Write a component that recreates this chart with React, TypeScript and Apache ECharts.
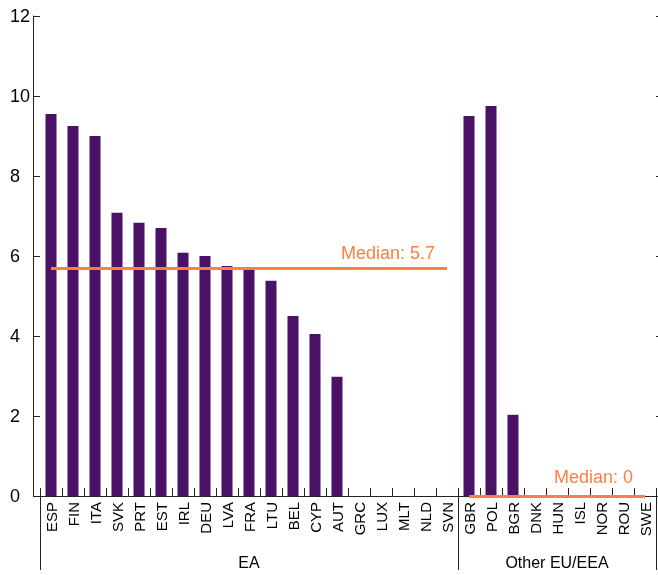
import React, { useEffect, useRef } from "react";
import * as echarts from "echarts";

const eaCountries = ["ESP", "FIN", "ITA", "SVK", "PRT", "EST", "IRL", "DEU", "LVA", "FRA", "LTU", "BEL", "CYP", "AUT", "GRC", "LUX", "MLT", "NLD", "SVN"];
const eaValues = [9.55, 9.25, 9.0, 7.08, 6.83, 6.7, 6.08, 6.0, 5.75, 5.65, 5.38, 4.5, 4.05, 2.98, 0, 0, 0, 0, 0];
const otherCountries = ["GBR", "POL", "BGR", "DNK", "HUN", "ISL", "NOR", "ROU", "SWE"];
const otherValues = [9.5, 9.75, 2.03, 0, 0, 0, 0, 0, 0];
const groupLabels = ["EA", "Other EU/EEA"];
const eaMedian = 5.7;
const otherMedian = 0;
const yMin = 0;
const yMax = 12;
const yInterval = 2;

const FONT = "'Liberation Sans Narrow', 'Arial Narrow', 'Liberation Sans', Arial, sans-serif";
const BAR = "#4A1266";
const ORANGE = "#FF7F3F";
const AXIS = "#222";

export default function App() {
  const ref = useRef<HTMLDivElement>(null);
  useEffect(() => {
    if (!ref.current) return;
    const chart = echarts.init(ref.current, undefined, { renderer: "svg" });
    const categories = [...eaCountries, ...otherCountries];
    const values = [...eaValues, ...otherValues];
    const medianLabel = (v: number, dy: number) => ({
      show: true,
      position: "insideEndTop",
      formatter: `Median: ${v}`,
      color: ORANGE,
      fontSize: 18,
      fontFamily: FONT,
      distance: [12, dy],
    });
    chart.setOption({
      animation: false,
      grid: { left: 40, right: 2, top: 16, bottom: 79, containLabel: false },
      xAxis: [
        {
          type: "category",
          data: categories,
          boundaryGap: true,
          axisLine: { show: true, lineStyle: { color: AXIS, width: 1 } },
          axisTick: { show: true, inside: true, length: 8, interval: 0, lineStyle: { color: AXIS } },
          axisLabel: { interval: 0, rotate: 90, margin: 6, fontSize: 15, color: "#000", fontFamily: FONT },
          splitLine: { show: false },
        },
      ],
      yAxis: [
        {
          type: "value",
          min: yMin,
          max: yMax,
          interval: yInterval,
          offset: 7,
          axisLine: { show: true, lineStyle: { color: AXIS, width: 1 } },
          axisTick: { show: true, inside: true, length: 7, lineStyle: { color: AXIS } },
          axisLabel: { align: "left", margin: 23, fontSize: 18, color: "#000", fontFamily: FONT },
          splitLine: { show: false },
        },
        {
          type: "value",
          position: "right",
          min: yMin,
          max: yMax,
          interval: yInterval,
          axisLine: { show: false },
          axisTick: { show: true, inside: false, length: 2, lineStyle: { color: AXIS } },
          axisLabel: { show: false },
          splitLine: { show: false },
        },
      ],
      series: [
        {
          type: "bar",
          data: values,
          barWidth: "50%",
          itemStyle: { color: BAR },
          markLine: {
            silent: true,
            symbol: "none",
            lineStyle: { color: ORANGE, width: 3, type: "solid" },
            data: [
              [
                { coord: [eaCountries[0], eaMedian], label: medianLabel(eaMedian, 6) },
                { coord: [eaCountries[eaCountries.length - 1], eaMedian] },
              ],
              [
                { coord: [otherCountries[0], otherMedian], label: medianLabel(otherMedian, 10) },
                { coord: [otherCountries[otherCountries.length - 1], otherMedian] },
              ],
            ],
          },
        },
      ],
    });

    // group separators and group labels, placed through the category axis scale
    const px = (c: string) => chart.convertToPixel({ xAxisIndex: 0 }, c) as number;
    const band = px(categories[1]) - px(categories[0]);
    const y0 = chart.convertToPixel({ yAxisIndex: 0 }, 0) as number;
    const groups = [eaCountries, otherCountries];
    const edges: number[] = [px(categories[0]) - band / 2];
    groups.forEach((g) => edges.push(px(g[g.length - 1]) + band / 2));
    const crisp = (x: number) => (Math.round(x * 2) + 1) / 2;
    const graphic: any[] = [];
    edges.forEach((x) =>
      graphic.push({
        type: "line",
        shape: { x1: crisp(x), y1: y0 - 8, x2: crisp(x), y2: y0 + 74 },
        style: { stroke: AXIS, lineWidth: 1 },
        silent: true,
      })
    );
    groups.forEach((g, i) => {
      graphic.push({
        type: "text",
        x: (edges[i] + edges[i + 1]) / 2,
        y: y0 + 74,
        style: {
          text: groupLabels[i],
          fill: "#000",
          fontSize: 16,
          fontFamily: FONT,
          textAlign: "center",
          textVerticalAlign: "bottom",
        },
        silent: true,
      });
    });
    chart.setOption({ graphic });
    return () => chart.dispose();
  }, []);
  return <div ref={ref} style={{ position: "fixed", left: 0, top: 0, width: 658, height: 575 }} />;
}
